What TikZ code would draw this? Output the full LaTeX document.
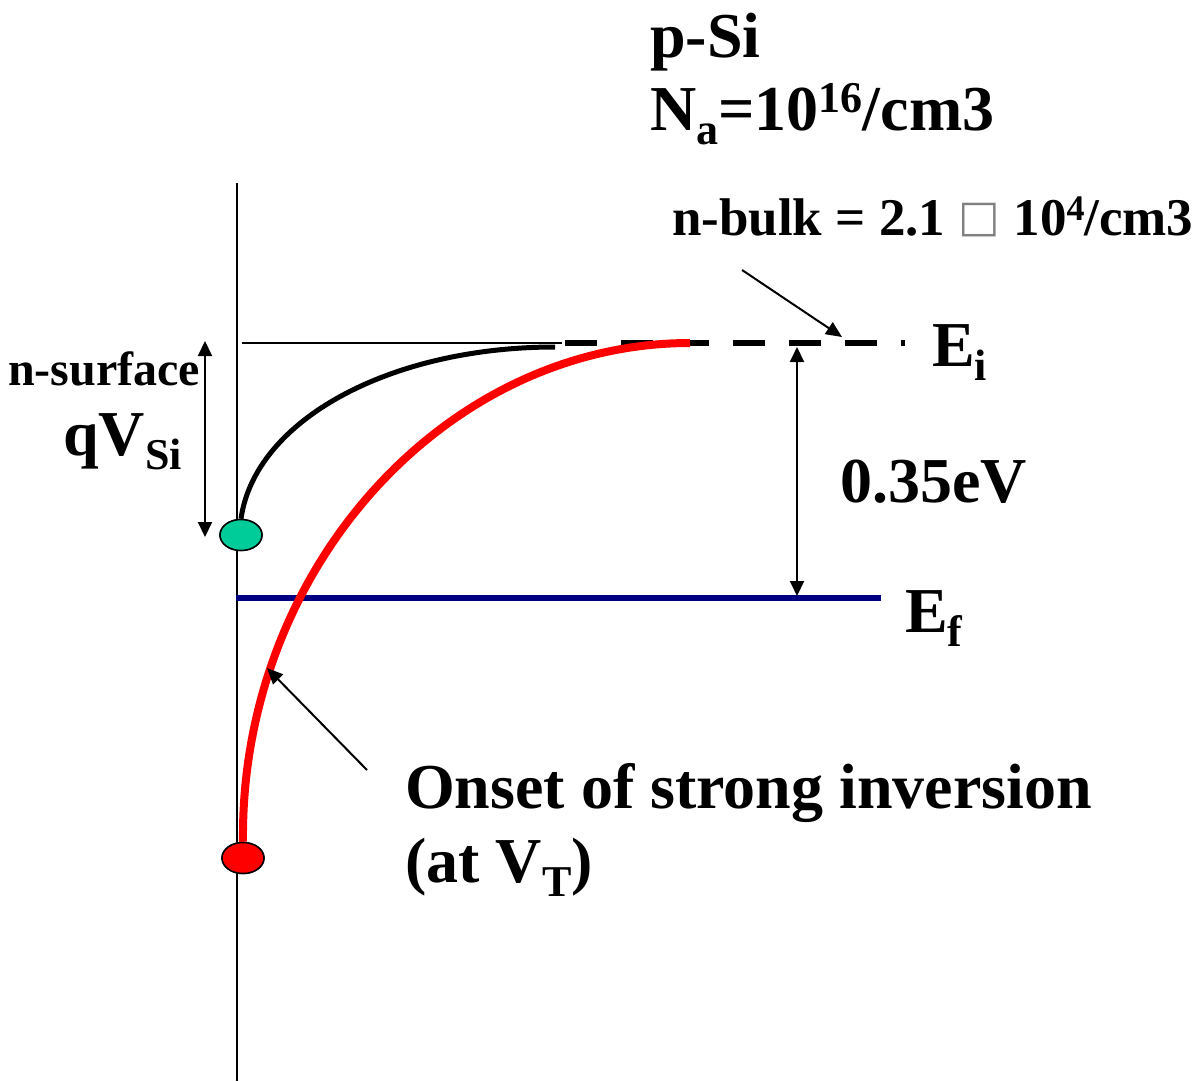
\documentclass[tikz,border=0pt]{standalone}
\usepackage{fontspec}
\setmainfont{Liberation Serif}
\newfontfamily\symfont{DejaVu Sans}
\usetikzlibrary{arrows.meta,shapes.geometric}
\definecolor{surfgreen}{RGB}{0,204,153}
\definecolor{fermiblue}{RGB}{0,0,128}
\newcommand{\lowtxt}[2][44]{\raisebox{-0.22em}{\fontsize{#1}{#1}\selectfont #2}}
\newcommand{\hightxt}[2][44]{\raisebox{0.28em}{\fontsize{#1}{#1}\selectfont #2}}
\begin{document}
\begin{tikzpicture}[
    x=1pt, y=-1pt,
    big/.style={font=\fontsize{64}{74}\selectfont\bfseries, inner sep=0pt, anchor=base west},
    mid/.style={font=\fontsize{53}{60}\selectfont\bfseries, inner sep=0pt, anchor=base west},
    small/.style={font=\fontsize{48}{56}\selectfont\bfseries, inner sep=0pt, anchor=base west},
    pointer/.style={line width=2pt, -{Triangle[length=16pt, width=14pt]}},
    span/.style={line width=2pt, {Triangle[length=15pt, width=14pt]}-{Triangle[length=15pt, width=14pt]}},
    dot/.style={ellipse, draw, line width=1.5pt, minimum width=42pt, minimum height=31pt, inner sep=0pt}
  ]
  \useasboundingbox (0,0) rectangle (1201,1081);

  % labels
  \node[big] (sub) at (650,57) {p-Si};
  \node[big] (dop) at (650,130) {N\lowtxt{a}=10\hightxt{16}/cm3};
  \node[mid] (bulk) at (672,235) {n-bulk = 2.1 \raisebox{0.06em}{\symfont\fontsize{44}{44}\selectfont\textcolor{gray}{□}} 10\hightxt[36]{4}/cm3};
  \node[big] (ei) at (932,366) {E\lowtxt{i}};
  \node[big] (gapv) at (840,502) {0.35eV};
  \node[big] (ef) at (905,632) {E\lowtxt{f}};
  \node[small] (surf) at (8,385) {n-surface};
  \node[big] (qv) at (63,455) {qV\lowtxt{Si}};
  \node[big] (onset) at (405,808) {Onset of strong inversion};
  \node[big] (vt) at (405,882) {(at V\lowtxt{T})};

  % band edges
  \coordinate (axTop) at (237,183);
  \coordinate (axBot) at (237,1081);
  \coordinate (flatA) at (242,343);
  \coordinate (flatB) at (562,343);
  \coordinate (eiA) at (565,343);
  \coordinate (eiB) at (905,343);
  \coordinate (efA) at (236,598);
  \coordinate (efB) at (881,598);
  \draw[line width=1.2pt] (axTop) -- (axBot);
  \draw[line width=1.2pt] (flatA) -- (flatB);
  \draw[line width=6pt, dash pattern=on 32pt off 24pt] (eiA) -- (eiB);
  \draw[fermiblue, line width=6.5pt] (efA) -- (efB);

  % surface points
  \node[dot, fill=surfgreen] (s0) at (241,535) {};
  \node[dot, fill=red] (s1) at (243,858) {};
  \coordinate (bendEnd) at (555,347);
  \coordinate (invEnd) at (690,343);
  \draw[line width=5pt] (s0.north) .. controls (255,420) and (390,347) .. (bendEnd);
  \draw[red, line width=8pt] (s1.north) .. controls (240,570) and (445,343) .. (invEnd);
  \node[dot, fill=surfgreen] at (s0) {};
  \node[dot, fill=red] at (s1) {};

  % arrows
  \coordinate (qvTop) at (205,341);
  \coordinate (qvBot) at (205,537);
  \coordinate (gapTop) at (797,347);
  \coordinate (gapBot) at (797,596);
  \coordinate (bulkTail) at (742,270);
  \coordinate (bulkTip) at (842,337);
  \coordinate (onTail) at (367,770);
  \coordinate (onTip) at (267,668);
  \draw[span] (qvTop) -- (qvBot);
  \draw[span] (gapTop) -- (gapBot);
  \draw[pointer] (bulkTail) -- (bulkTip);
  \draw[pointer] (onTail) -- (onTip);
\end{tikzpicture}
\end{document}
